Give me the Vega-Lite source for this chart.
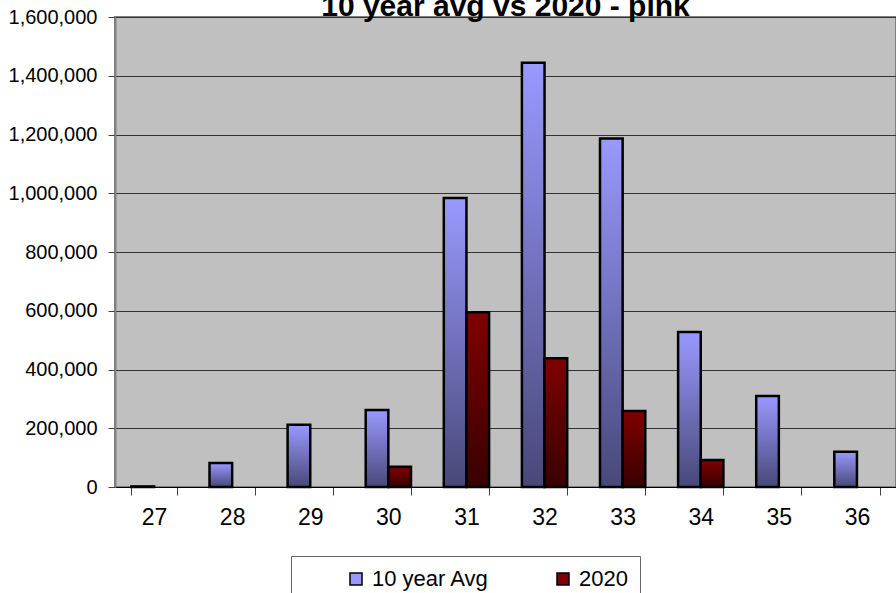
{
  "$schema": "https://vega.github.io/schema/vega-lite/v6.json",
  "width": 781,
  "height": 470,
  "autosize": {"type": "none"},
  "padding": {"left": 115, "top": 17, "right": 0, "bottom": 106},
  "background": "white",
  "title": {
    "text": "10 year avg vs 2020 - pink",
    "font": "Liberation Sans",
    "fontSize": 30,
    "fontWeight": "bold",
    "color": "black",
    "anchor": "middle",
    "offset": -15
  },
  "data": {
    "values": [
      {"week": "27", "series": "10 year Avg", "value": 2000},
      {"week": "28", "series": "10 year Avg", "value": 82000},
      {"week": "29", "series": "10 year Avg", "value": 212000},
      {"week": "30", "series": "10 year Avg", "value": 262000},
      {"week": "31", "series": "10 year Avg", "value": 984000},
      {"week": "32", "series": "10 year Avg", "value": 1444000},
      {"week": "33", "series": "10 year Avg", "value": 1186000},
      {"week": "34", "series": "10 year Avg", "value": 528000},
      {"week": "35", "series": "10 year Avg", "value": 310000},
      {"week": "36", "series": "10 year Avg", "value": 120000},
      {"week": "30", "series": "2020", "value": 69000},
      {"week": "31", "series": "2020", "value": 595000},
      {"week": "32", "series": "2020", "value": 438000},
      {"week": "33", "series": "2020", "value": 259000},
      {"week": "34", "series": "2020", "value": 92000}
    ]
  },
  "encoding": {
    "x": {
      "field": "week",
      "type": "nominal",
      "sort": ["27", "28", "29", "30", "31", "32", "33", "34", "35", "36"],
      "scale": {"paddingInner": 0.42, "paddingOuter": 0.21},
      "axis": {
        "title": null,
        "labelAngle": 0,
        "tickBand": "extent",
        "labelFont": "Liberation Sans",
        "labelFontSize": 23,
        "labelColor": "black",
        "tickColor": "#404040",
        "tickSize": 8,
        "labelPadding": 11,
        "domainColor": "black",
        "domainWidth": 1,
        "grid": false
      }
    },
    "xOffset": {
      "field": "series",
      "type": "nominal",
      "scale": {"domain": ["10 year Avg", "2020"], "paddingInner": 0, "paddingOuter": 0}
    },
    "y": {
      "field": "value",
      "type": "quantitative",
      "scale": {"domain": [0, 1600000], "nice": false},
      "axis": {
        "title": null,
        "values": [0, 200000, 400000, 600000, 800000, 1000000, 1200000, 1400000, 1600000],
        "format": ",d",
        "labelFont": "Liberation Sans",
        "labelFontSize": 20,
        "labelColor": "black",
        "tickColor": "#404040",
        "tickSize": 7,
        "labelPadding": 11,
        "domainColor": "#808080",
        "domainWidth": 2,
        "grid": true,
        "gridColor": "#333333",
        "gridWidth": 1
      }
    }
  },
  "layer": [
    {
      "mark": {"type": "bar", "stroke": "black", "strokeWidth": 2.5},
      "encoding": {
        "fill": {
          "condition": {
            "test": "datum.series === '2020'",
            "value": {
              "gradient": "linear",
              "x1": 0, "y1": 0, "x2": 0, "y2": 1,
              "stops": [
                {"offset": 0, "color": "#800000"},
                {"offset": 1, "color": "#380000"}
              ]
            }
          },
          "value": {
            "gradient": "linear",
            "x1": 0, "y1": 0, "x2": 0, "y2": 1,
            "stops": [
              {"offset": 0, "color": "#9999FF"},
              {"offset": 1, "color": "#484878"}
            ]
          }
        }
      }
    },
    {
      "transform": [{"filter": "datum.value < 0"}],
      "mark": {"type": "bar"},
      "encoding": {
        "color": {
          "field": "series",
          "type": "nominal",
          "scale": {"domain": ["10 year Avg", "2020"], "range": ["#9999FF", "#800000"]},
          "legend": {
            "orient": "none",
            "legendX": 176,
            "legendY": 539,
            "direction": "horizontal",
            "title": "\u00a0",
            "titleOrient": "left",
            "titleFontSize": 10,
            "titlePadding": 42,
            "padding": 12,
            "strokeColor": "#666666",
            "fillColor": "white",
            "symbolType": "square",
            "symbolSize": 144,
            "symbolStrokeColor": "black",
            "symbolStrokeWidth": 1.5,
            "symbolOpacity": 1,
            "labelFont": "Liberation Sans",
            "labelFontSize": 22,
            "labelColor": "black",
            "labelOffset": 5,
            "columnPadding": 62,
            "labelExpr": "datum.label === '2020' ? datum.label + '\u00a0\u00a0\u00a0\u00a0\u00a0\u00a0\u00a0' : datum.label"
          }
        }
      }
    }
  ],
  "config": {
    "view": {"stroke": "#808080", "strokeWidth": 2, "fill": "#C0C0C0"}
  }
}
